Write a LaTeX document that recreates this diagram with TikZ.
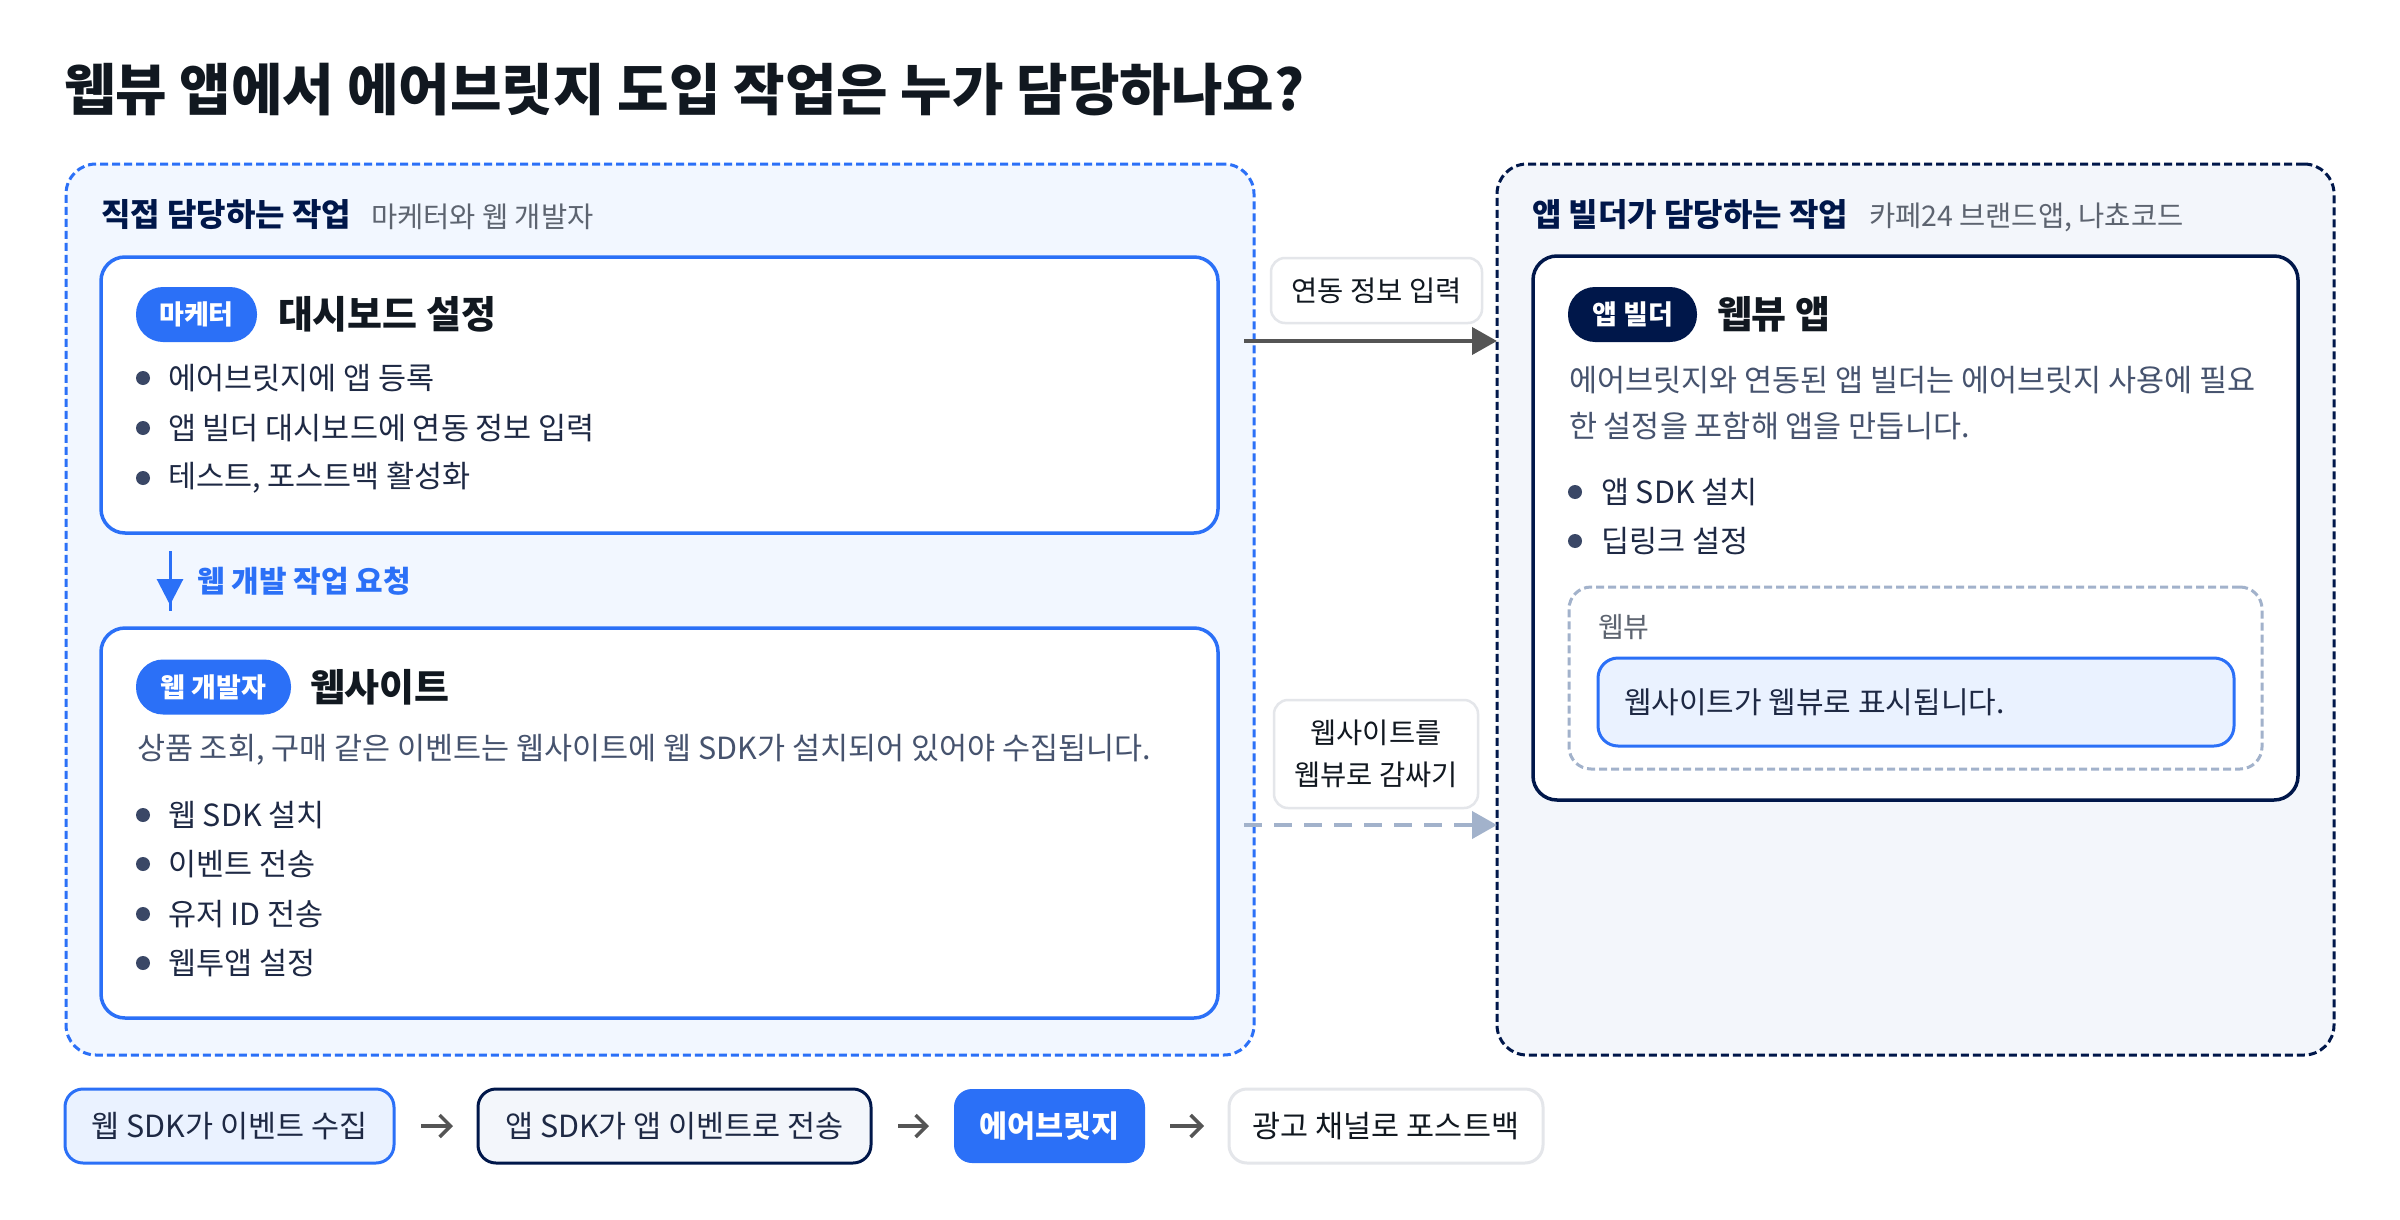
\documentclass[tikz,border=0pt]{standalone}
\usepackage{fontspec}
\setmainfont{Noto Sans CJK KR}
\usetikzlibrary{arrows.meta}
\definecolor{cink}{HTML}{111820}
\definecolor{cblue}{HTML}{2B70F7}
\definecolor{cnavy}{HTML}{00174A}
\definecolor{cpanelL}{HTML}{F2F7FF}
\definecolor{cpanelR}{HTML}{F3F6FB}
\definecolor{clight}{HTML}{EAF2FF}
\definecolor{cbody}{HTML}{1E2944}
\definecolor{cdesc}{HTML}{46536E}
\definecolor{cgray}{HTML}{5D6470}
\definecolor{cdot}{HTML}{3A4766}
\definecolor{cborder}{HTML}{E4E6EA}
\definecolor{carrow}{HTML}{555555}
\definecolor{cdash}{HTML}{A2B2CB}
\newcommand\kfs[1]{\fontsize{#1}{#1}\selectfont}
\tikzset{
  every node/.style={inner sep=0pt, outer sep=0pt},
  panelL/.style={draw=cblue, fill=cpanelL, line width=3pt, dash pattern=on 8pt off 4pt, rounded corners=30pt, anchor=north west},
  panelR/.style={draw=cnavy, fill=cpanelR, line width=3pt, dash pattern=on 8pt off 4pt, rounded corners=30pt, anchor=north west},
  cardB/.style={draw=cblue, fill=white, line width=3.5pt, rounded corners=24pt, anchor=north west},
  cardN/.style={draw=cnavy, fill=white, line width=3.5pt, rounded corners=24pt, anchor=north west},
  wvbox/.style={draw=cdash, fill=white, line width=3pt, dash pattern=on 8pt off 4pt, rounded corners=22pt, anchor=north west},
  wvinner/.style={draw=cblue, fill=clight, line width=3pt, rounded corners=20pt, anchor=north west},
  pill/.style={rounded corners=27pt, minimum height=55pt, text=white, font=\kfs{27}\bfseries},
  bigtitle/.style={anchor=west, text=cink, font=\kfs{56}\bfseries},
  hdr/.style={anchor=west, text=cnavy, font=\kfs{32}\bfseries},
  hdrsub/.style={anchor=west, text=cgray, font=\kfs{28.5}},
  cardtitle/.style={anchor=west, text=cink, font=\kfs{38}\bfseries},
  item/.style={anchor=west, text=cbody, font=\kfs{30.5}},
  desc/.style={anchor=west, text=cdesc, font=\kfs{30.5}},
  dot/.style={circle, fill=cdot, minimum size=14pt},
  lbl/.style={draw=cborder, fill=white, line width=2.5pt, rounded corners=14pt, text=cink, font=\kfs{28.5}},
  flowbox/.style={line width=3pt, rounded corners=18pt, minimum height=74pt, font=\kfs{30.5}},
  conn/.style={draw=carrow, line width=4pt, -{Triangle[length=25pt,width=27pt]}},
  dconn/.style={draw=cdash, line width=4pt, dash pattern=on 18pt off 12pt, -{Triangle[length=25pt,width=27pt]}},
  flowarrow/.style={draw=carrow, line width=3.5pt, -{Straight Barb[length=11pt,width=22pt]}},
}
\begin{document}
\begin{tikzpicture}[x=1pt,y=-1pt]
\useasboundingbox[fill=white] (0,0) rectangle (2400,1220);

% title
\node[bigtitle] (title) at (64,90) {웹뷰 앱에서 에어브릿지 도입 작업은 누가 담당하나요?};

% panels
\node[panelL, minimum width=1188pt, minimum height=891pt] (lp) at (66,164) {};
\node[panelR, minimum width=837pt, minimum height=891pt] (rp) at (1497,164) {};

\node[hdr] (lph) at (101,215) {직접 담당하는 작업};
\node[hdrsub] (lps) at (371,217) {마케터와 웹 개발자};
\node[hdr] (rph) at (1532,215) {앱 빌더가 담당하는 작업};
\node[hdrsub] (rps) at (1869,217) {카페24 브랜드앱, 나쵸코드};

% left card 1
\node[cardB, minimum width=1117pt, minimum height=276pt] (c1) at (101,257) {};
\node[pill, fill=cblue, minimum width=121pt] (p1) at (196.5,314.5) {마케터};
\node[cardtitle] (t1) at (278,314) {대시보드 설정};
\node[dot] (d11) at (143,378) {};
\node[item] (i11) at (168,378) {에어브릿지에 앱 등록};
\node[dot] (d12) at (143,428) {};
\node[item] (i12) at (168,428) {앱 빌더 대시보드에 연동 정보 입력};
\node[dot] (d13) at (143,478) {};
\node[item] (i13) at (168,478) {테스트, 포스트백 활성화};

% down arrow
\coordinate (da1) at (170,551);
\coordinate (da2) at (170,611);
\coordinate (da3) at (170,605);
\draw[draw=cblue, line width=3pt] (da1) -- (da2);
\draw[draw=cblue, fill=cblue, line width=3pt, -{Triangle[length=26pt,width=26pt]}] (da1) -- (da3);
\node[anchor=west, text=cblue, font=\kfs{30}\bfseries] (req) at (197,581) {웹 개발 작업 요청};

% left card 2
\node[cardB, minimum width=1117pt, minimum height=390pt] (c2) at (101,628) {};
\node[pill, fill=cblue, minimum width=155pt] (p2) at (213.5,687) {웹 개발자};
\node[cardtitle] (t2) at (310,687) {웹사이트};
\node[desc] (ds2) at (137,750) {상품 조회, 구매 같은 이벤트는 웹사이트에 웹 SDK가 설치되어 있어야 수집됩니다.};
\node[dot] (d21) at (143,815) {};
\node[item] (i21) at (168,815) {웹 SDK 설치};
\node[dot] (d22) at (143,864) {};
\node[item] (i22) at (168,864) {이벤트 전송};
\node[dot] (d23) at (143,914) {};
\node[item] (i23) at (168,914) {유저 ID 전송};
\node[dot] (d24) at (143,963) {};
\node[item] (i24) at (168,963) {웹투앱 설정};

% right card
\node[cardN, minimum width=765pt, minimum height=544pt] (c3) at (1533,256) {};
\node[pill, fill=cnavy, minimum width=129pt] (p3) at (1632.5,314.5) {앱 빌더};
\node[cardtitle] (t3) at (1717,314) {웹뷰 앱};
\node[desc] (ds3a) at (1569,380) {에어브릿지와 연동된 앱 빌더는 에어브릿지 사용에 필요};
\node[desc] (ds3b) at (1569,426) {한 설정을 포함해 앱을 만듭니다.};
\node[dot] (d31) at (1575,492) {};
\node[item] (i31) at (1601,492) {앱 SDK 설치};
\node[dot] (d32) at (1575,541) {};
\node[item] (i32) at (1601,541) {딥링크 설정};
\node[wvbox, minimum width=693pt, minimum height=182pt] (wv) at (1569,587) {};
\node[anchor=west, text=cgray, font=\kfs{28}] (wvl) at (1598,627) {웹뷰};
\node[wvinner, minimum width=636pt, minimum height=88pt] (wvi) at (1598,658) {};
\node[anchor=west, text=cbody, font=\kfs{30}] (wvt) at (1624,702) {웹사이트가 웹뷰로 표시됩니다.};

% connectors between panels
\coordinate (s1) at (1244,341);
\coordinate (s2) at (1244,825);
\draw[conn] (s1) -- (s1 -| rp.west);
\draw[dconn] (s2) -- (s2 -| rp.west);
\node[lbl, minimum width=211pt, minimum height=65pt] (l1) at (1376.5,290.5) {연동 정보 입력};
\node[lbl, minimum width=204pt, minimum height=108pt, align=center, font=\fontsize{28.5}{42}\selectfont] (l2) at (1376,754) {웹사이트를\\웹뷰로 감싸기};

% bottom flow
\node[flowbox, draw=cblue, fill=clight, text=cbody, minimum width=329pt] (f1) at (229.5,1126) {웹 SDK가 이벤트 수집};
\node[flowbox, draw=cnavy, fill=cpanelR, text=cbody, minimum width=393pt] (f2) at (674.5,1126) {앱 SDK가 앱 이벤트로 전송};
\node[flowbox, fill=cblue, text=white, font=\kfs{30.5}\bfseries, minimum width=191pt] (f3) at (1049.5,1126) {에어브릿지};
\node[flowbox, draw=cborder, fill=white, text=cink, minimum width=314pt] (f4) at (1386,1126) {광고 채널로 포스트백};
\draw[flowarrow, shorten <=27pt, shorten >=25pt] (f1) -- (f2);
\draw[flowarrow, shorten <=27pt, shorten >=25pt] (f2) -- (f3);
\draw[flowarrow, shorten <=25pt, shorten >=25pt] (f3) -- (f4);
\end{tikzpicture}
\end{document}
